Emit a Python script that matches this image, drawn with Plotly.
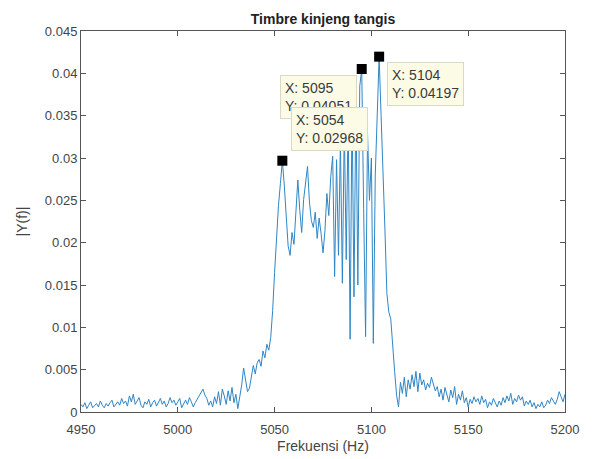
import plotly.graph_objects as go

# Frequency axis (Hz), 1 Hz resolution
freq_start = 4950
freq_stop = 5200

# Spectrum magnitude |Y(f)| for 4950..5200 Hz, one row per 10 Hz
magnitude = [
    # 4950-4959
    0.0009, 0.0006, 0.0011, 0.0004, 0.0008, 0.0012, 0.0005, 0.0007, 0.0010, 0.0006,
    # 4960-4969
    0.0013, 0.0008, 0.0005, 0.0010, 0.0007, 0.0011, 0.0014, 0.0006, 0.0009, 0.0012,
    # 4970-4979
    0.0008, 0.0016, 0.0010, 0.0013, 0.0007, 0.0019, 0.0012, 0.0021, 0.0009, 0.0014,
    # 4980-4989
    0.0017, 0.0008, 0.0005, 0.0012, 0.0009, 0.0015, 0.0006, 0.0011, 0.0014, 0.0007,
    # 4990-4999
    0.0012, 0.0016, 0.0009, 0.0013, 0.0006, 0.0010, 0.0017, 0.0011, 0.0014, 0.0008,
    # 5000-5009
    0.0012, 0.0016, 0.0005, 0.0010, 0.0014, 0.0009, 0.0017, 0.0012, 0.0006, 0.0011,
    # 5010-5019
    0.0015, 0.0019, 0.0024, 0.0027, 0.0020, 0.0016, 0.0008, 0.0013, 0.0006, 0.0018,
    # 5020-5029
    0.0010, 0.0024, 0.0008, 0.0027, 0.0019, 0.0009, 0.0025, 0.0013, 0.0029, 0.0011,
    # 5030-5039
    0.0021, 0.0004, 0.0018, 0.0032, 0.0052, 0.0035, 0.0024, 0.0028, 0.0040, 0.0055,
    # 5040-5049
    0.0045, 0.0058, 0.0062, 0.0054, 0.0072, 0.0064, 0.0080, 0.0073, 0.0088, 0.0120,
    # 5050-5059
    0.0165, 0.0208, 0.0244, 0.0270, 0.02968, 0.0268, 0.0232, 0.0196, 0.0185, 0.0212,
    # 5060-5069
    0.0198, 0.0243, 0.0274, 0.0238, 0.0212, 0.0251, 0.0268, 0.0290, 0.0248, 0.0226,
    # 5070-5079
    0.0218, 0.0236, 0.0205, 0.0229, 0.0211, 0.0188, 0.0214, 0.0258, 0.0232, 0.0278,
    # 5080-5089
    0.0302, 0.0160, 0.0298, 0.0185, 0.0320, 0.0152, 0.0338, 0.0180, 0.0352, 0.0086,
    # 5090-5099
    0.0362, 0.0136, 0.0372, 0.0150, 0.0385, 0.04051, 0.0240, 0.0089, 0.0330, 0.0250,
    # 5100-5109
    0.0300, 0.0081, 0.0280, 0.0360, 0.04197, 0.0350, 0.0290, 0.0215, 0.0140, 0.0118,
    # 5110-5119
    0.0110, 0.0075, 0.0048, 0.0020, 0.0006, 0.0035, 0.0022, 0.0041, 0.0018, 0.0038,
    # 5120-5129
    0.0027, 0.0044, 0.0030, 0.0048, 0.0024, 0.0046, 0.0032, 0.0038, 0.0026, 0.0034,
    # 5130-5139
    0.0029, 0.0041, 0.0033, 0.0025, 0.0030, 0.0018, 0.0027, 0.0014, 0.0029, 0.0020,
    # 5140-5149
    0.0012, 0.0026, 0.0017, 0.0030, 0.0009, 0.0021, 0.0014, 0.0025, 0.0011, 0.0017,
    # 5150-5159
    0.0006, 0.0015, 0.0010, 0.0018, 0.0012, 0.0016, 0.0009, 0.0019, 0.0011, 0.0015,
    # 5160-5169
    0.0005, 0.0012, 0.0008, 0.0016, 0.0010, 0.0006, 0.0013, 0.0008, 0.0017, 0.0011,
    # 5170-5179
    0.0019, 0.0013, 0.0022, 0.0009, 0.0016, 0.0012, 0.0020, 0.0014, 0.0018, 0.0007,
    # 5180-5189
    0.0013, 0.0009, 0.0014, 0.0006, 0.0011, 0.0004, 0.0009, 0.0006, 0.0012, 0.0005,
    # 5190-5199
    0.0008, 0.0014, 0.0010, 0.0017, 0.0013, 0.0009, 0.0015, 0.0024, 0.0018, 0.0012,
    # 5200
    0.0021,
]

frequency = list(range(freq_start, freq_stop + 1))
assert len(frequency) == len(magnitude)

# Data cursors placed on the spectrum (later ones drawn on top)
cursor_freqs = [5095, 5054, 5104]

x_ticks = [4950, 5000, 5050, 5100, 5150, 5200]
y_ticks = [0, 0.005, 0.01, 0.015, 0.02, 0.025, 0.03, 0.035, 0.04, 0.045]
y_tick_text = ["0", "0.005", "0.01", "0.015", "0.02", "0.025", "0.03", "0.035", "0.04", "0.045"]

cursor_vals = [magnitude[frequency.index(f)] for f in cursor_freqs]

FONT = "Liberation Sans, Arial, sans-serif"

fig = go.Figure()
fig.add_trace(go.Scatter(
    x=frequency, y=magnitude, mode="lines",
    line=dict(color="#2f86c6", width=1),
    showlegend=False,
))
fig.add_trace(go.Scatter(
    x=cursor_freqs, y=cursor_vals, mode="markers",
    marker=dict(symbol="square", size=10, color="black"),
    showlegend=False,
))

# Datatip boxes: (x anchor, y anchor, x shift, y shift)
tip_style = {
    5095: ("right", "top", -5, -6),
    5054: ("left", "bottom", 9, 10),
    5104: ("left", "top", 8, -5),
}
for f, v in zip(cursor_freqs, cursor_vals):
    xa, ya, xs, ys = tip_style[f]
    fig.add_annotation(
        x=f, y=v, xref="x", yref="y",
        text=f"X: {f}<br>Y: {v:.4g}",
        showarrow=False, align="left",
        xanchor=xa, yanchor=ya, xshift=xs, yshift=ys,
        bgcolor="#fcfce6", bordercolor="#d9d9c4", borderwidth=1, borderpad=4,
        font=dict(family=FONT, size=14, color="#3a3a3a"),
    )

axis_common = dict(
    showgrid=False, zeroline=False, automargin=False,
    showline=True, linecolor="#555555", linewidth=1, mirror="ticks",
    ticks="inside", ticklen=5, tickcolor="#555555",
    tickfont=dict(family=FONT, size=13, color="#444444"),
)

fig.update_xaxes(
    range=[freq_start, freq_stop], tickvals=x_ticks, ticklabelstandoff=5,
    title=dict(text="Frekuensi (Hz)", standoff=5,
               font=dict(family=FONT, size=14, color="#444444")),
    **axis_common,
)
fig.update_yaxes(
    range=[0, 0.045], tickvals=y_ticks, ticktext=y_tick_text,
    title=dict(text="|Y(f)|", standoff=13,
               font=dict(family=FONT, size=14, color="#444444")),
    **axis_common,
)

fig.update_layout(
    width=594, height=459,
    margin=dict(l=81, r=29, t=31, b=47),
    paper_bgcolor="white", plot_bgcolor="white",
    title=dict(
        text="<b>Timbre kinjeng tangis</b>",
        x=(81 + 565) / 2 / 594, xanchor="center",
        y=1 - 19 / 459, yanchor="middle",
        font=dict(family=FONT, size=14, color="#222222"),
    ),
)

fig.write_html("out.html")
